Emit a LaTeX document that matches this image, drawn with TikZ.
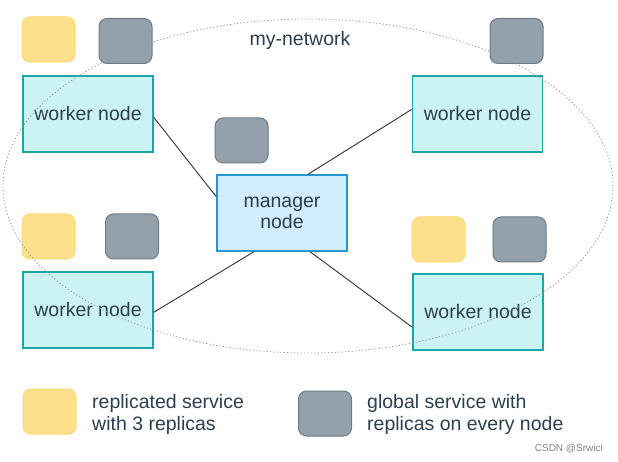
\documentclass[tikz,border=0pt]{standalone}
\usepackage{fontspec}
\setmainfont{Liberation Sans}
\usepackage{xcolor}
\definecolor{textcol}{RGB}{44,62,80}
\definecolor{workerfill}{RGB}{204,243,243}
\definecolor{workerline}{RGB}{26,168,166}
\definecolor{managerfill}{RGB}{210,237,251}
\definecolor{managerline}{RGB}{40,150,208}
\definecolor{replfill}{RGB}{255,224,140}
\definecolor{replline}{RGB}{255,216,112}
\definecolor{globalfill}{RGB}{148,161,170}
\definecolor{globalline}{RGB}{108,124,138}
\definecolor{netline}{RGB}{140,155,168}
\newcommand{\bigtext}{\fontsize{19.5}{21.5}\selectfont}
\tikzstyle{worker}=[draw=workerline, fill=workerfill, line width=1.6pt, minimum width=130pt, minimum height=76pt, inner sep=0pt, text=textcol, font=\bigtext]
\tikzstyle{manager}=[worker, draw=managerline, fill=managerfill, align=center]
\tikzstyle{replsvc}=[draw=replline, fill=replfill, line width=1pt, rounded corners=8pt, minimum width=53pt, minimum height=45pt]
\tikzstyle{globalsvc}=[replsvc, draw=globalline, fill=globalfill]
\tikzstyle{link}=[line width=0.9pt, color=black!80]
\tikzstyle{network}=[line width=0.8pt, color=netline, dash pattern=on 1.2pt off 2.2pt]
\tikzstyle{label}=[text=textcol, font=\bigtext, align=left, inner sep=0pt]

\begin{document}
\begin{tikzpicture}[x=1pt,y=-1pt]
  \useasboundingbox (0,0) rectangle (618,462);
  \draw (300,40) node[label] (net) {my-network};

  \draw (88,114) node[worker] (wTL) {worker node};
  \draw (477.5,114) node[worker] (wTR) {worker node};
  \draw (88,310) node[worker] (wBL) {worker node};
  \draw (478,312) node[worker] (wBR) {worker node};
  \draw (282,213) node[manager] (mgr) {manager\\node};

  \draw (48.5,39.5) node[replsvc] (rTL) {};
  \draw (125.5,41) node[globalsvc] (gTL) {};
  \draw (241.5,140.5) node[globalsvc] (gM) {};
  \draw (516.5,41) node[globalsvc] (gTR) {};
  \draw (48.5,236.5) node[replsvc] (rBL) {};
  \draw (132,236.5) node[globalsvc] (gBL) {};
  \draw (438.5,239.5) node[replsvc] (rBR) {};
  \draw (519.5,239.5) node[globalsvc] (gBR) {};

  \draw[link] (wTL.-3.5) -- (mgr.166);
  \draw[link] (wTR.176.5) -- (mgr.56.7);
  \draw[link] (wBL.-2.6) -- (mgr.234.6);
  \draw[link] (wBR.193.8) -- (mgr.306.4);

  %% the overlay network
  \draw[network] (308,186) ellipse [x radius=305pt, y radius=167pt];

  %% Legend things
  \draw (49.5,411.5) node[replsvc] (rKey) {};
  \draw (325,413.5) node[globalsvc] (gKey) {};
  \draw (92,414.5) node[label, anchor=west] (rText) {replicated service\\with 3 replicas};
  \draw (367,414.5) node[label, anchor=west] (gText) {global service with\\replicas on every node};
  \draw (603,451) node[anchor=base east, inner sep=0pt, text=black!50, font=\fontsize{10}{12}\selectfont] (mark) {CSDN @Srwici};
\end{tikzpicture}
\end{document}
